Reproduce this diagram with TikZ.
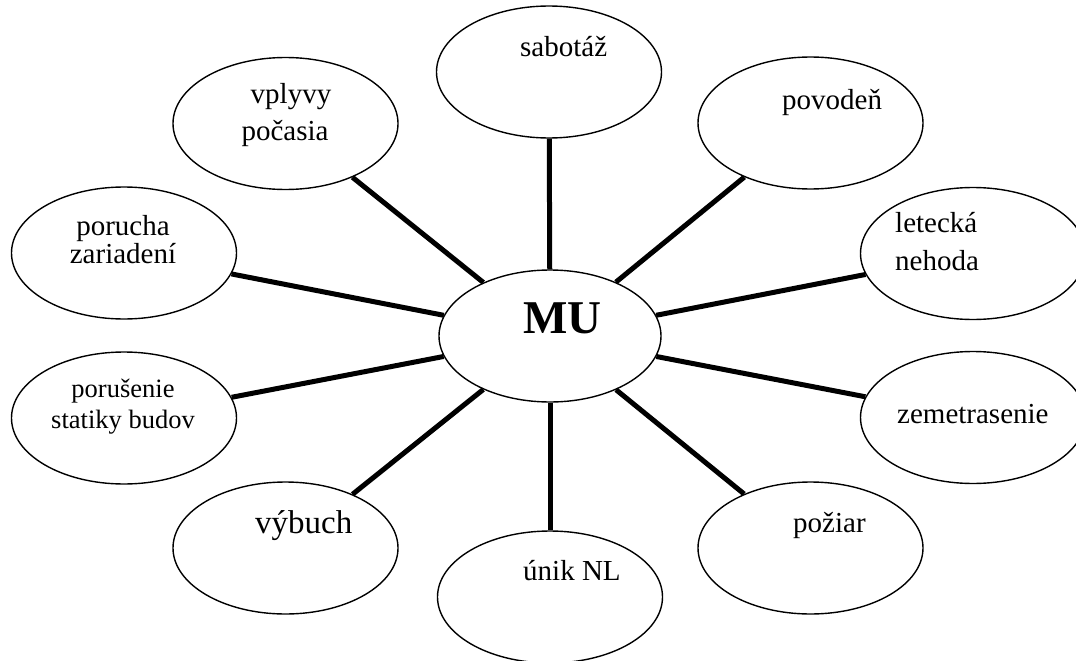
\documentclass[tikz,border=0pt]{standalone}
\usepackage{fontspec}
\setmainfont{Liberation Serif}
\usetikzlibrary{shapes.geometric}
\tikzset{
  bubble/.style={draw, ellipse, line width=1.4pt, minimum width=225pt, minimum height=132pt, inner sep=0pt},
  hub/.style={draw, ellipse, line width=1.4pt, minimum width=222pt, minimum height=132pt, inner sep=0pt},
  spoke/.style={line width=5pt},
  vspoke/.style={line width=5pt},
  lbl/.style={inner sep=0pt, font=\fontsize{29}{32}\selectfont},
}
\begin{document}
\begin{tikzpicture}[x=1pt, y=-1pt]
\useasboundingbox (0,0) rectangle (1076,661);
\node[hub] (mu) at (550,336) {};
\node[bubble] (sab) at (549,72) {};
\node[bubble] (vpl) at (285.5,123.5) {};
\node[bubble] (pov) at (810.5,123) {};
\node[bubble] (por) at (124,253) {};
\node[bubble] (let) at (973,253.5) {};
\node[bubble] (stat) at (124,418) {};
\node[bubble] (zem) at (973,417.5) {};
\node[bubble] (vyb) at (285.5,548) {};
\node[bubble] (poz) at (810.5,548) {};
\node[bubble] (unik) at (550,597) {};

\draw[vspoke] (mu) -- (sab);
\draw[vspoke] (mu) -- (unik);
\draw[spoke] (mu) -- (vpl);
\draw[spoke] (mu) -- (pov);
\draw[spoke] (mu) -- (por);
\draw[spoke] (mu) -- (let);
\draw[spoke] (mu) -- (stat);
\draw[spoke] (mu) -- (zem);
\draw[spoke] (mu) -- (vyb);
\draw[spoke] (mu) -- (poz);

\node[inner sep=0pt, anchor=base west, font=\fontsize{47}{50}\selectfont\bfseries] (tmu) at (523,333) {MU};
\node[lbl, anchor=base west] (tsab) at (520,57) {sabotáž};
\node[lbl, anchor=base] (tvpl1) at (291,103) {vplyvy};
\node[lbl, anchor=base] (tvpl2) at (285,140) {počasia};
\node[lbl, anchor=base west] (tpov) at (782,110) {povodeň};
\node[lbl, anchor=base west] (tlet1) at (895,232) {letecká};
\node[lbl, anchor=base west] (tlet2) at (895,270) {nehoda};
\node[lbl, anchor=base] (tpor1) at (123,235) {porucha};
\node[lbl, anchor=base] (tpor2) at (123,263) {zariadení};
\node[lbl, anchor=base, font=\fontsize{26.5}{29}\selectfont] (tstat1) at (123,397) {porušenie};
\node[lbl, anchor=base, font=\fontsize{26.5}{29}\selectfont] (tstat2) at (123,428) {statiky budov};
\node[lbl, anchor=base west] (tzem) at (897,423) {zemetrasenie};
\node[lbl, anchor=base west, font=\fontsize{33}{36}\selectfont] (tvyb) at (255,533) {výbuch};
\node[lbl, anchor=base west] (tpoz) at (793,532) {požiar};
\node[lbl, anchor=base west] (tunik) at (523,580) {únik NL};
\end{tikzpicture}
\end{document}
